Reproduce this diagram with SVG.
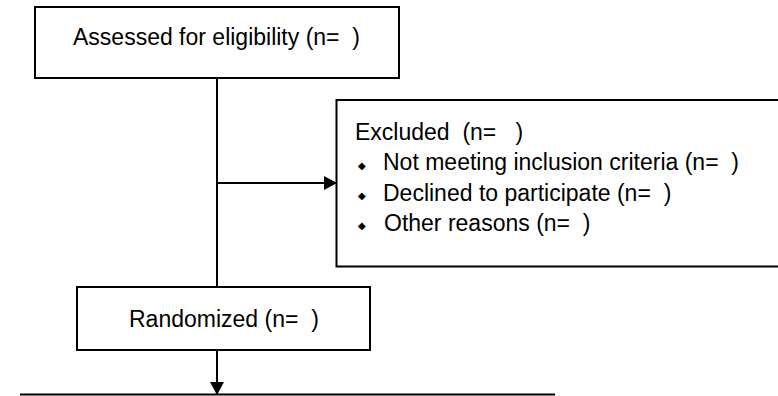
<svg xmlns="http://www.w3.org/2000/svg" width="778" height="396" viewBox="0 0 778 396">
<style>
.box{fill:#fff;stroke:#000;stroke-width:2}
.ln{fill:none;stroke:#000;stroke-width:2}
text{font-family:"Liberation Sans",Arial,sans-serif;font-size:23px;fill:#000}
.b{font-size:10px}
</style>
<defs>
<marker id="ah" markerWidth="14" markerHeight="14" refX="12" refY="7" orient="auto" markerUnits="userSpaceOnUse">
<path d="M0,0 L13,7 L0,14 Z" fill="#000"/>
</marker>
</defs>
<rect width="778" height="396" fill="#fff"/>
<g id="connectors">
<line class="ln" x1="217" y1="78" x2="217" y2="287"/>
<line class="ln" x1="217" y1="183" x2="336" y2="183" marker-end="url(#ah)"/>
<line class="ln" x1="217" y1="350" x2="217" y2="394" marker-end="url(#ah)"/>
<line class="ln" x1="20" y1="394.5" x2="555" y2="394.5"/>
</g>
<g id="assessed">
<rect class="box" x="35" y="7" width="364" height="71"/>
<text x="73" y="45" xml:space="preserve">Assessed for eligibility (n=  )</text>
</g>
<g id="excluded">
<path class="ln" d="M779,100 H336.5 V266.5 H779"/>
<text x="355" y="140" xml:space="preserve">Excluded  (n=   )</text>
<text class="b" x="358" y="168.5">◆</text>
<text x="383" y="170" xml:space="preserve">Not meeting inclusion criteria (n=  )</text>
<text class="b" x="358" y="198.5">◆</text>
<text x="383" y="200.5" xml:space="preserve">Declined to participate (n=  )</text>
<text class="b" x="358" y="229">◆</text>
<text x="384" y="230.5" xml:space="preserve">Other reasons (n=  )</text>
</g>
<g id="randomized">
<rect class="box" x="77" y="287" width="293" height="63"/>
<text x="129" y="327" xml:space="preserve">Randomized (n=  )</text>
</g>
</svg>
